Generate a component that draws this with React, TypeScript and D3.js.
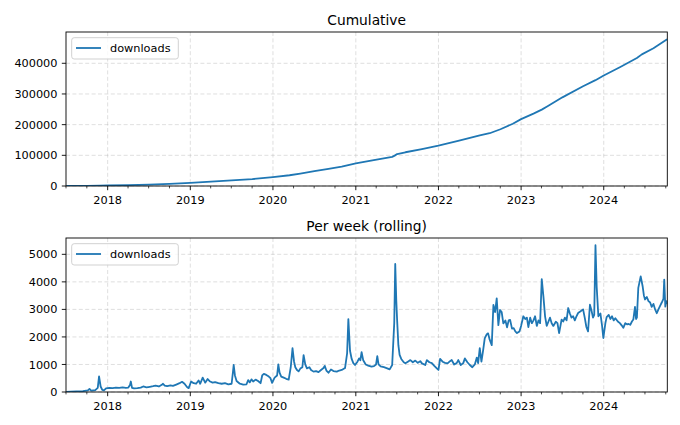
import React from "react";
import * as d3 from "d3";

// ---- data (decimal year, value) ----
const cumYears = [2017.5, 2017.75, 2017.9, 2018.0, 2018.25, 2018.5, 2018.75, 2019.0, 2019.25, 2019.5, 2019.75, 2020.0, 2020.2, 2020.33, 2020.5, 2020.67, 2020.83, 2021.0, 2021.2, 2021.44, 2021.47, 2021.5, 2021.6, 2021.8, 2022.0, 2022.25, 2022.5, 2022.62, 2022.75, 2022.9, 2023.0, 2023.15, 2023.25, 2023.32, 2023.5, 2023.75, 2023.9, 2024.0, 2024.2, 2024.4, 2024.46, 2024.6, 2024.765];
const cumValues = [0, 300, 900, 1800, 3000, 4700, 7200, 10500, 14000, 18200, 22500, 29000, 35000, 40500, 48500, 56000, 63000, 73500, 83500, 95000, 99000, 104000, 110000, 120500, 132000, 148000, 165000, 172000, 185000, 203000, 218000, 236000, 249000, 260000, 289000, 325000, 345000, 360000, 388000, 417000, 429000, 449000, 478000];

const weekYears = [2017.50, 2017.55, 2017.62, 2017.70, 2017.76, 2017.78, 2017.80, 2017.85, 2017.88, 2017.896, 2017.915, 2017.935, 2017.955, 2017.98, 2018.02, 2018.06, 2018.10, 2018.14, 2018.18, 2018.22, 2018.25, 2018.27, 2018.28, 2018.295, 2018.32, 2018.36, 2018.40, 2018.43, 2018.47, 2018.51, 2018.55, 2018.58, 2018.62, 2018.655, 2018.67, 2018.69, 2018.72, 2018.76, 2018.79, 2018.83, 2018.87, 2018.90, 2018.93, 2018.96, 2018.98, 2019.01, 2019.04, 2019.07, 2019.10, 2019.12, 2019.15, 2019.18, 2019.21, 2019.24, 2019.27, 2019.30, 2019.34, 2019.38, 2019.42, 2019.46, 2019.50, 2019.515, 2019.525, 2019.54, 2019.56, 2019.60, 2019.64, 2019.68, 2019.70, 2019.72, 2019.74, 2019.76, 2019.79, 2019.82, 2019.85, 2019.87, 2019.89, 2019.92, 2019.95, 2019.97, 2019.99, 2020.02, 2020.05, 2020.065, 2020.08, 2020.10, 2020.13, 2020.16, 2020.19, 2020.215, 2020.236, 2020.255, 2020.27, 2020.29, 2020.31, 2020.33, 2020.355, 2020.37, 2020.39, 2020.41, 2020.44, 2020.46, 2020.49, 2020.52, 2020.55, 2020.58, 2020.61, 2020.625, 2020.645, 2020.67, 2020.70, 2020.73, 2020.77, 2020.80, 2020.83, 2020.87, 2020.895, 2020.91, 2020.93, 2020.95, 2020.97, 2020.99, 2021.02, 2021.04, 2021.055, 2021.07, 2021.09, 2021.12, 2021.15, 2021.19, 2021.22, 2021.245, 2021.26, 2021.275, 2021.30, 2021.34, 2021.38, 2021.41, 2021.44, 2021.465, 2021.477, 2021.49, 2021.50, 2021.515, 2021.53, 2021.55, 2021.58, 2021.60, 2021.63, 2021.66, 2021.69, 2021.72, 2021.75, 2021.78, 2021.80, 2021.84, 2021.86, 2021.89, 2021.92, 2021.95, 2021.98, 2022.00, 2022.02, 2022.05, 2022.08, 2022.11, 2022.14, 2022.16, 2022.19, 2022.22, 2022.24, 2022.27, 2022.30, 2022.32, 2022.35, 2022.38, 2022.41, 2022.44, 2022.464, 2022.48, 2022.50, 2022.52, 2022.54, 2022.56, 2022.585, 2022.60, 2022.62, 2022.645, 2022.66, 2022.665, 2022.685, 2022.705, 2022.725, 2022.745, 2022.765, 2022.785, 2022.81, 2022.83, 2022.85, 2022.867, 2022.89, 2022.91, 2022.93, 2022.95, 2022.98, 2023.00, 2023.027, 2023.05, 2023.07, 2023.088, 2023.11, 2023.13, 2023.15, 2023.169, 2023.19, 2023.21, 2023.23, 2023.25, 2023.27, 2023.29, 2023.31, 2023.33, 2023.35, 2023.37, 2023.39, 2023.42, 2023.44, 2023.46, 2023.49, 2023.51, 2023.53, 2023.55, 2023.57, 2023.59, 2023.61, 2023.63, 2023.65, 2023.67, 2023.69, 2023.72, 2023.75, 2023.77, 2023.79, 2023.81, 2023.833, 2023.854, 2023.87, 2023.885, 2023.90, 2023.915, 2023.935, 2023.96, 2023.98, 2023.995, 2024.02, 2024.035, 2024.06, 2024.08, 2024.10, 2024.12, 2024.14, 2024.17, 2024.195, 2024.216, 2024.236, 2024.26, 2024.28, 2024.30, 2024.32, 2024.34, 2024.357, 2024.377, 2024.39, 2024.40, 2024.417, 2024.446, 2024.47, 2024.485, 2024.498, 2024.52, 2024.54, 2024.56, 2024.579, 2024.60, 2024.62, 2024.64, 2024.66, 2024.68, 2024.70, 2024.72, 2024.73, 2024.743, 2024.755, 2024.765];
const weekValues = [0, 10, 20, 30, 60, 110, 50, 70, 150, 570, 200, 80, 60, 130, 150, 140, 160, 150, 170, 150, 160, 250, 380, 150, 130, 140, 160, 200, 170, 190, 210, 230, 200, 260, 300, 230, 210, 240, 220, 270, 320, 370, 300, 180, 140, 380, 320, 300, 420, 300, 520, 340, 470, 380, 340, 360, 320, 300, 320, 280, 300, 700, 980, 600, 400, 300, 270, 280, 430, 350, 460, 380, 450, 400, 320, 600, 660, 620, 560, 500, 330, 520, 600, 1000, 700, 560, 520, 480, 450, 900, 1590, 1100, 900, 800, 750, 850, 900, 1340, 1000, 860, 900, 800, 740, 760, 720, 800, 870, 950, 780, 700, 820, 760, 740, 780, 800, 870, 1400, 2650, 1500, 1200, 1050, 980, 1100, 1220, 1150, 1450, 1150, 1000, 960, 920, 940, 1000, 1300, 1000, 930, 900, 860, 820, 980, 2500, 4650, 3300, 2600, 1700, 1350, 1200, 1080, 1040, 1100, 1160, 1080, 1140, 1060, 1120, 1040, 980, 1160, 1080, 1050, 950, 860, 800, 1200, 1100, 1060, 1040, 1120, 1160, 1000, 1050, 1160, 980, 1050, 1220, 1080, 980, 900, 1000, 1250, 1050, 1590, 1100, 1500, 1950, 2100, 2130, 1900, 1700, 2800, 3160, 2900, 3400, 2430, 2980, 2900, 2490, 2600, 2350, 2600, 2620, 2300, 2320, 2200, 2140, 2200, 2400, 2750, 2650, 2700, 2360, 2700, 2500, 2600, 2750, 2400, 2600, 2500, 4100, 3470, 2750, 2400, 2550, 2700, 2500, 2400, 2550, 2500, 2140, 2630, 2560, 2700, 2600, 3050, 2850, 2700, 2750, 2600, 2750, 2870, 2930, 3000, 2700, 2360, 2200, 3170, 2930, 2700, 2800, 5330, 3800, 2750, 2850, 2400, 1960, 2500, 2720, 2800, 2650, 2750, 2600, 2680, 2560, 2500, 2420, 2330, 2500, 2460, 2470, 2440, 2560, 2630, 3090, 2650, 2700, 3780, 4200, 3830, 3500, 3360, 3450, 3300, 3250, 3090, 3200, 3000, 2860, 3000, 3130, 3250, 3380, 4080, 3100, 3300, 3200];

const cumTicks = [0, 100000, 200000, 300000, 400000];
const weekTicks = [0, 1000, 2000, 3000, 4000, 5000];
const titles = ["Cumulative", "Per week (rolling)"];
const seriesName = "downloads";

// ---- helpers ----
function yd(y: number): Date {
  const Y = Math.floor(y);
  const s = Date.UTC(Y, 0, 1);
  const e = Date.UTC(Y + 1, 0, 1);
  return new Date(s + (y - Y) * (e - s));
}

const W = 680;
const H = 425;
const left = 66;
const right = 667.3;
const FONT = "DejaVu Sans, sans-serif";
const COLOR = "#1f77b4";

const x = d3
  .scaleUtc()
  .domain([new Date(Date.UTC(2017, 6, 1)), yd(2024.767)])
  .range([left, right]);

const majorX = d3.utcYear.range(new Date(Date.UTC(2018, 0, 1)), new Date(Date.UTC(2025, 0, 1)));
const minorX = d3.utcMonth
  .every(3)!
  .range(new Date(Date.UTC(2017, 6, 1)), yd(2024.77))
  .filter((d) => d.getUTCMonth() !== 0);

type PanelProps = {
  top: number;
  bottom: number;
  ymax: number;
  years: number[];
  values: number[];
  ticks: number[];
  title: string;
  id: string;
};

function Panel({ top, bottom, ymax, years, values, ticks, title, id }: PanelProps) {
  const y = d3.scaleLinear().domain([0, ymax]).range([bottom, top]);
  const pts: [Date, number][] = years.map((yy, i) => [yd(yy), values[i]]);
  const line = d3
    .line<[Date, number]>()
    .x((d) => x(d[0]))
    .y((d) => y(d[1]));
  const fs = 11.3;
  return (
    <g>
      <defs>
        <clipPath id={id}>
          <rect x={left} y={top} width={right - left} height={bottom - top} />
        </clipPath>
      </defs>
      {/* grid */}
      {majorX.map((d, i) => (
        <line key={"gx" + i} x1={x(d)} x2={x(d)} y1={top} y2={bottom} stroke="#b0b0b0" strokeOpacity={0.5} strokeWidth={0.8} strokeDasharray="4,2.4" />
      ))}
      {ticks.map((t, i) => (
        <line key={"gy" + i} x1={left} x2={right} y1={y(t)} y2={y(t)} stroke="#b0b0b0" strokeOpacity={0.5} strokeWidth={0.8} strokeDasharray="4,2.4" />
      ))}
      {/* data line */}
      <path d={line(pts) || ""} fill="none" stroke={COLOR} strokeWidth={1.8} strokeLinejoin="round" clipPath={`url(#${id})`} />
      {/* spines */}
      <rect x={left} y={top} width={right - left} height={bottom - top} fill="none" stroke="#000" strokeWidth={0.9} />
      {/* x ticks */}
      {majorX.map((d, i) => (
        <g key={"tx" + i}>
          <line x1={x(d)} x2={x(d)} y1={bottom} y2={bottom + 4.2} stroke="#000" strokeWidth={0.9} />
          <text x={x(d)} y={bottom + 18} textAnchor="middle" fontFamily={FONT} fontSize={fs} fill="#000">
            {d.getUTCFullYear()}
          </text>
        </g>
      ))}
      {minorX.map((d, i) => (
        <line key={"mx" + i} x1={x(d)} x2={x(d)} y1={bottom} y2={bottom + 2.4} stroke="#000" strokeWidth={0.7} />
      ))}
      {/* y ticks */}
      {ticks.map((t, i) => (
        <g key={"ty" + i}>
          <line x1={left - 4.2} x2={left} y1={y(t)} y2={y(t)} stroke="#000" strokeWidth={0.9} />
          <text x={left - 8.5} y={y(t)} dy="0.36em" textAnchor="end" fontFamily={FONT} fontSize={fs} fill="#000">
            {t}
          </text>
        </g>
      ))}
      {/* title */}
      <text x={(left + right) / 2} y={top - 7} textAnchor="middle" fontFamily={FONT} fontSize={13.8} fill="#000">
        {title}
      </text>
      {/* legend */}
      <rect x={71.7} y={top + 5.7} width={106.6} height={21.3} rx={2.5} fill="#fff" fillOpacity={0.8} stroke="#cccccc" strokeWidth={0.9} />
      <line x1={76} x2={101} y1={top + 16} y2={top + 16} stroke={COLOR} strokeWidth={1.8} />
      <text x={110} y={top + 16} dy="0.36em" fontFamily={FONT} fontSize={fs} fill="#000">
        {seriesName}
      </text>
    </g>
  );
}

export default function App() {
  return (
    <svg width={W} height={H} style={{ position: "absolute", left: 0, top: 0, background: "#fff" }}>
      <rect x={0} y={0} width={W} height={H} fill="#fff" />
      <Panel top={32} bottom={186} ymax={502000} years={cumYears} values={cumValues} ticks={cumTicks} title={titles[0]} id="clip1" />
      <Panel top={238} bottom={392} ymax={5593} years={weekYears} values={weekValues} ticks={weekTicks} title={titles[1]} id="clip2" />
    </svg>
  );
}
